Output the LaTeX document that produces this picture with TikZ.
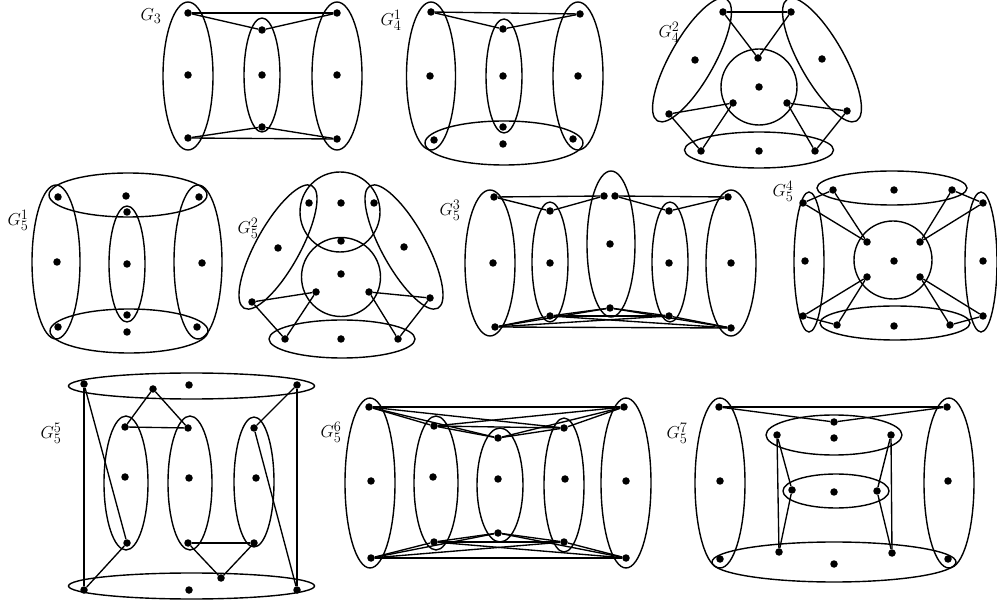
\documentclass[tikz,border=0pt]{standalone}
\begin{document}
\begin{tikzpicture}[x=1pt,y=-1pt,
  hyper/.style={line width=1.4pt},
  edge/.style={line width=1.35pt},
  dot/.style={circle,fill=black,inner sep=0pt,minimum size=7.5pt},
  lab/.style={font=\fontsize{19}{22}\selectfont}]
\useasboundingbox (0,0) rectangle (997,612);

% ---------------- G_3
\node[lab] (la) at (151,16) {$G_3$};
\draw[hyper] (188,76) ellipse [x radius=25, y radius=74];
\draw[hyper] (262,75) ellipse [x radius=18, y radius=57];
\draw[hyper] (337,76) ellipse [x radius=25, y radius=74];
\foreach \n/\x/\y in {1/188/13,2/188/75,3/188/138,4/262/30,5/262/75,6/262/127,7/337/13,8/337/75,9/337/139}
  \node[dot] (a\n) at (\x,\y) {};
\foreach \u/\v in {1/7,1/4,4/7,3/9,3/6,6/9} \draw[edge] (a\u) -- (a\v);

% ---------------- G_4^1
\node[lab] (lb) at (391,20) {$G_4^1$};
\draw[hyper] (431,76) ellipse [x radius=24.5, y radius=74];
\draw[hyper] (504,76) ellipse [x radius=18, y radius=57];
\draw[hyper] (578,76) ellipse [x radius=25, y radius=74];
\draw[hyper] (504,143) ellipse [x radius=79, y radius=22];
\foreach \n/\x/\y in {1/431/12,2/430/76,3/434/140,4/503/29,5/503/76,6/503/127,7/503/144,8/580/14,9/578/76,10/573/139}
  \node[dot] (b\n) at (\x,\y) {};
\foreach \u/\v in {1/8,1/4,4/8} \draw[edge] (b\u) -- (b\v);

% ---------------- G_4^2
\node[lab] (lc) at (669,32) {$G_4^2$};
\draw[hyper] (759,87) circle [radius=38];
\draw[hyper, rotate around={60.5:(692,60)}] (692,60) ellipse [x radius=70, y radius=22];
\draw[hyper, rotate around={119.5:(822,60)}] (822,60) ellipse [x radius=70, y radius=22];
\draw[hyper] (759,150) ellipse [x radius=74.5, y radius=18];
\foreach \n/\x/\y in {1/723/12,2/791/12,3/695/60,4/822/59,5/669/114,6/847/111,7/758/58,8/759/87,9/733/103,10/787/103,11/701/151,12/759/151,13/815/151}
  \node[dot] (c\n) at (\x,\y) {};
\foreach \u/\v in {1/2,1/7,2/7,5/9,5/11,9/11,10/6,10/13,6/13} \draw[edge] (c\u) -- (c\v);

% ---------------- G_5^1
\node[lab] (ld) at (18,220) {$G_5^1$};
\draw[hyper] (56,262) ellipse [x radius=24, y radius=77];
\draw[hyper] (128,195) ellipse [x radius=79, y radius=22];
\draw[hyper] (127,264) ellipse [x radius=18, y radius=58];
\draw[hyper] (129,331) ellipse [x radius=79, y radius=22];
\draw[hyper] (198,262) ellipse [x radius=24, y radius=77];
\foreach \n/\x/\y in {1/58/197,2/57/262,3/58/327,4/126/196,5/199/197,6/127/212,7/127/264,8/127/315,9/127/332,10/202/263,11/197/327}
  \node[dot] (d\n) at (\x,\y) {};

% ---------------- G_5^2
\node[lab] (le) at (248,228) {$G_5^2$};
\draw[hyper] (340,212) circle [radius=40];
\draw[hyper] (341,277) circle [radius=39.5];
\draw[hyper, rotate around={61:(278,247)}] (278,247) ellipse [x radius=70, y radius=22];
\draw[hyper, rotate around={119:(404,247)}] (404,247) ellipse [x radius=70, y radius=22];
\draw[hyper] (342,339) ellipse [x radius=73, y radius=19];
\foreach \n/\x/\y in {1/309/203,2/341/203,3/374/203,4/341/241,5/341/274,6/316/292,7/369/292,8/278/248,9/404/247,10/252/302,11/430/298,12/285/339,13/341/339,14/398/339}
  \node[dot] (e\n) at (\x,\y) {};
\foreach \u/\v in {10/6,10/12,6/12,7/11,7/14,11/14} \draw[edge] (e\u) -- (e\v);

% ---------------- G_5^3
\node[lab] (lf) at (450,210) {$G_5^3$};
\draw[hyper] (490,263) ellipse [x radius=25, y radius=73];
\draw[hyper] (550,262) ellipse [x radius=18, y radius=60];
\draw[hyper] (611,244) ellipse [x radius=24, y radius=73];
\draw[hyper] (670,262) ellipse [x radius=18, y radius=60];
\draw[hyper] (731,263) ellipse [x radius=25, y radius=73];
\foreach \n/\x/\y in {1/494/197,2/493/263,3/495/327,4/550/211,5/550/263,6/550/316,7/604/196,8/615/196,9/610/244,10/610/308,11/669/211,12/669/263,13/669/316,14/728/197,15/731/263,16/731/328}
  \node[dot] (f\n) at (\x,\y) {};
\foreach \u/\v in {1/7,1/4,4/7,8/14,8/11,11/14,3/6,3/10,3/13,3/16,6/10,6/13,6/16,10/13,10/16,13/16} \draw[edge] (f\u) -- (f\v);

% ---------------- G_5^4
\node[lab] (lg) at (783,191) {$G_5^4$};
\draw[hyper] (892,188) ellipse [x radius=75, y radius=17];
\draw[hyper] (809,262) ellipse [x radius=15, y radius=70];
\draw[hyper] (981,262) ellipse [x radius=16, y radius=70];
\draw[hyper] (893,260) circle [radius=39];
\draw[hyper] (895,323) ellipse [x radius=75, y radius=17];
\foreach \n/\x/\y in {1/833/190,2/894/190,3/952/190,4/803/203,5/805/261,6/803/316,7/983/203,8/983/261,9/983/316,10/867/242,11/920/242,12/894/261,13/867/277,14/920/277,15/837/325,16/894/326,17/950/325}
  \node[dot] (g\n) at (\x,\y) {};
\foreach \u/\v in {4/1,4/10,1/10,3/11,7/11,3/7,6/13,6/15,15/13,14/9,14/17,17/9} \draw[edge] (g\u) -- (g\v);

% ---------------- G_5^5
\node[lab] (lh) at (51,433) {$G_5^5$};
\draw[hyper] (191.5,386) ellipse [x radius=123, y radius=13];
\draw[hyper] (191.5,586) ellipse [x radius=123, y radius=13];
\draw[hyper] (126,483) ellipse [x radius=22, y radius=67];
\draw[hyper] (190,483) ellipse [x radius=22, y radius=67];
\draw[hyper] (254,482) ellipse [x radius=20, y radius=65];
\foreach \n/\x/\y in {1/84/384,2/153/389,3/189/385,4/297/385,5/125/427,6/125/477,7/127/543,8/188/428,9/189/478,10/188/543,11/254/428,12/256/478,13/254/543,14/84/590,15/189/590,16/221/578,17/297/590}
  \node[dot] (h\n) at (\x,\y) {};
\foreach \u/\v in {1/14,1/7,7/14,2/5,2/8,5/8,10/13,10/16,13/16,4/11,4/17,11/17} \draw[edge] (h\u) -- (h\v);

% ---------------- G_5^6
\node[lab] (li) at (331,432) {$G_5^6$};
\draw[hyper] (370,483) ellipse [x radius=25, y radius=85];
\draw[hyper] (436,483) ellipse [x radius=22, y radius=67];
\draw[hyper] (500,485) ellipse [x radius=23, y radius=57];
\draw[hyper] (564,485) ellipse [x radius=20, y radius=67];
\draw[hyper] (626,483) ellipse [x radius=25, y radius=85];
\foreach \n/\x/\y in {1/369/407,2/371/481,3/371/558,4/434/426,5/433/477,6/434/542,7/498/438,8/498/479,9/498/533,10/564/428,11/565/479,12/564/542,13/624/407,14/626/481,15/626/558}
  \node[dot] (i\n) at (\x,\y) {};
\foreach \u/\v in {1/4,1/7,1/10,1/13,4/7,4/10,4/13,7/10,7/13,10/13,3/6,3/9,3/12,3/15,6/9,6/12,6/15,9/12,9/15,12/15} \draw[edge] (i\u) -- (i\v);

% ---------------- G_5^7
\node[lab] (lj) at (677,433) {$G_5^7$};
\draw[hyper] (720,483) ellipse [x radius=25, y radius=85];
\draw[hyper] (949,483) ellipse [x radius=25, y radius=85];
\draw[hyper] (834,435) ellipse [x radius=68, y radius=20];
\draw[hyper] (836,491) ellipse [x radius=53, y radius=17];
\draw[hyper] (834,562) ellipse [x radius=122, y radius=20];
\foreach \n/\x/\y in {1/719/407,2/720/481,3/720/559,4/947/407,5/948/481,6/948/559,7/834/422,8/834/438,9/777/435,10/891/435,11/792/490,12/834/492,13/877/491,14/779/552,15/834/564,16/892/553}
  \node[dot] (j\n) at (\x,\y) {};
\foreach \u/\v in {1/4,1/7,7/4,9/14,9/11,11/14,10/16,10/13,13/16} \draw[edge] (j\u) -- (j\v);

\end{tikzpicture}
\end{document}
